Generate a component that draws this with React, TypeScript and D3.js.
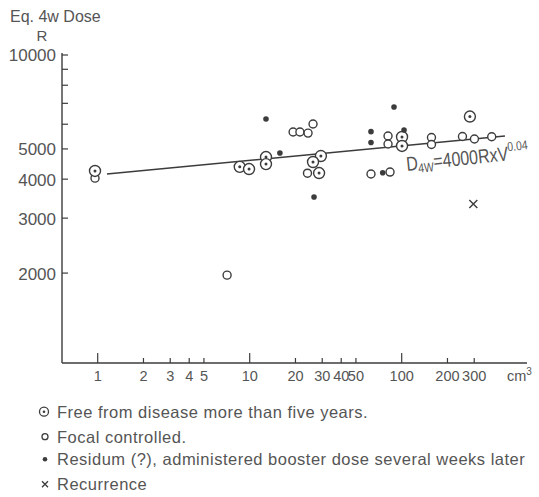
import React, { useRef, useEffect } from "react";
import * as d3 from "d3";

// points: [volume cm3, equivalent 4-week dose R]
const freeFromDisease = [
  [0.96, 4250], [8.6, 4380], [9.9, 4310], [12.8, 4710], [12.8, 4470],
  [29.4, 4745], [26.1, 4540], [28.6, 4185], [100.5, 5460], [100.5, 5110], [281, 6350],
];
const focalControlled = [
  [0.96, 4030], [7.1, 1970], [19.3, 5665], [21.4, 5665], [24.2, 5620], [26.1, 6010],
  [24.0, 4180], [62.8, 4155], [83.8, 4215], [81.3, 5500], [81.3, 5185],
  [157, 5440], [157, 5165], [251, 5480], [301, 5380], [391, 5470],
];
const residuum = [
  [12.8, 6235], [15.8, 4850], [26.5, 3505], [62.8, 5680], [62.8, 5240],
  [75, 4195], [89, 6815], [103.6, 5750],
];
const recurrence = [[296, 3330]];
// D4w = 4000 R x V^0.04, ends as drawn
const fitLine = [[1.15, 4155], [478, 5500]];

const xTicks = [1, 2, 3, 4, 5, 10, 20, 30, 40, 50, 100, 200, 300];
const xMajor = [1, 10, 100];
const yLabelled = [2000, 3000, 4000, 5000, 10000];
const yMinor = [6000, 7000, 8000, 9000];

const legendItems = [
  { kind: "free", label: "Free from disease more than five years." },
  { kind: "focal", label: "Focal controlled." },
  { kind: "residuum", label: "Residum (?), administered booster dose several weeks later" },
  { kind: "recurrence", label: "Recurrence" },
];

const INK = "#3c3c3c";
const FONT = "'Liberation Sans', Arial, sans-serif";

const App = () => {
  const svgRef = useRef(null);

  useEffect(() => {
    const svg = d3.select(svgRef.current);
    svg.selectAll("*").remove();

    const x = d3.scaleLog().domain([1, 100]).range([97.7, 401.7]);
    const y = d3.scaleLog().domain([1030, 10000]).range([363, 55]);
    const axisX0 = 62;
    const axisY0 = 363;

    // axes lines
    svg.append("line")
      .attr("x1", axisX0).attr("x2", axisX0).attr("y1", 53).attr("y2", axisY0)
      .attr("stroke", INK).attr("stroke-width", 1.4);
    svg.append("line")
      .attr("x1", axisX0).attr("x2", 527).attr("y1", axisY0).attr("y2", axisY0)
      .attr("stroke", INK).attr("stroke-width", 1.4);

    // y ticks
    svg.selectAll(".ytick")
      .data([...yLabelled, ...yMinor])
      .enter()
      .append("line")
      .attr("x1", axisX0).attr("x2", axisX0 + 6)
      .attr("y1", (d) => y(d)).attr("y2", (d) => y(d))
      .attr("stroke", INK).attr("stroke-width", 1.2);
    svg.selectAll(".ylabel")
      .data(yLabelled)
      .enter()
      .append("text")
      .attr("x", axisX0 - 6)
      .attr("y", (d) => y(d))
      .attr("dy", "0.38em")
      .attr("text-anchor", "end")
      .attr("font-family", FONT)
      .attr("font-size", 17)
      .attr("fill", "#555")
      .text((d) => d);

    // y title
    svg.append("text")
      .attr("x", 10).attr("y", 22)
      .attr("font-family", FONT).attr("font-size", 16).attr("fill", "#555")
      .text("Eq. 4w Dose");
    svg.append("text")
      .attr("x", 42).attr("y", 41)
      .attr("text-anchor", "middle")
      .attr("font-family", FONT).attr("font-size", 15).attr("fill", "#555")
      .text("R");

    // x ticks
    svg.selectAll(".xtick")
      .data(xTicks)
      .enter()
      .append("line")
      .attr("x1", (d) => x(d)).attr("x2", (d) => x(d))
      .attr("y1", axisY0)
      .attr("y2", (d) => axisY0 - (xMajor.includes(d) ? 10 : 5))
      .attr("stroke", INK).attr("stroke-width", 1.2);
    svg.selectAll(".xlabel")
      .data(xTicks)
      .enter()
      .append("text")
      .attr("x", (d) => x(d))
      .attr("y", 381)
      .attr("text-anchor", "middle")
      .attr("font-family", FONT)
      .attr("font-size", 14.5)
      .attr("fill", "#555")
      .text((d) => d);
    const unit = svg.append("text")
      .attr("x", 507).attr("y", 381)
      .attr("font-family", FONT).attr("font-size", 14.5).attr("fill", "#555");
    unit.append("tspan").text("cm");
    unit.append("tspan").attr("dy", -6).attr("font-size", 10).text("3");

    // regression line
    svg.append("path")
      .datum(fitLine)
      .attr("d", d3.line().x((d) => x(d[0])).y((d) => y(d[1])))
      .attr("fill", "none")
      .attr("stroke", INK)
      .attr("stroke-width", 1.5);

    const formula = svg.append("text")
      .attr("transform", "translate(407,171) rotate(-6) scale(0.8,1)")
      .attr("font-family", FONT).attr("font-size", 20).attr("fill", "#555");
    formula.append("tspan").text("D");
    formula.append("tspan").attr("font-size", 13).attr("dy", 3).text("4W");
    formula.append("tspan").attr("dy", -3).text("=4000RxV");
    formula.append("tspan").attr("font-size", 13).attr("dy", -9).text("0.04");

    // focal controlled: open circles
    svg.selectAll(".focal")
      .data(focalControlled)
      .enter()
      .append("circle")
      .attr("cx", (d) => x(d[0])).attr("cy", (d) => y(d[1]))
      .attr("r", 4)
      .attr("fill", "white").attr("stroke", INK).attr("stroke-width", 1.4);

    // free from disease: circle with dot
    const free = svg.selectAll(".free")
      .data(freeFromDisease)
      .enter()
      .append("g")
      .attr("transform", (d) => `translate(${x(d[0])},${y(d[1])})`);
    free.append("circle").attr("r", 5.5)
      .attr("fill", "white").attr("stroke", INK).attr("stroke-width", 1.4);
    free.append("circle").attr("r", 1.5).attr("fill", INK);

    // residuum: filled dots
    svg.selectAll(".residuum")
      .data(residuum)
      .enter()
      .append("circle")
      .attr("cx", (d) => x(d[0])).attr("cy", (d) => y(d[1]))
      .attr("r", 2.8)
      .attr("fill", INK);

    // recurrence: crosses
    svg.selectAll(".recurrence")
      .data(recurrence)
      .enter()
      .append("path")
      .attr("transform", (d) => `translate(${x(d[0])},${y(d[1])})`)
      .attr("d", "M-4,-4L4,4M-4,4L4,-4")
      .attr("stroke", INK).attr("stroke-width", 1.4);

    // legend
    const rowY = [411.7, 436.7, 459.3, 484.3];
    const leg = svg.selectAll(".legend")
      .data(legendItems)
      .enter()
      .append("g")
      .attr("transform", (d, i) => `translate(0,${rowY[i]})`);
    leg.each(function (d) {
      const g = d3.select(this);
      if (d.kind === "free") {
        g.append("circle").attr("cx", 44).attr("r", 4.5)
          .attr("fill", "none").attr("stroke", INK).attr("stroke-width", 1.3);
        g.append("circle").attr("cx", 44).attr("r", 1.3).attr("fill", INK);
      } else if (d.kind === "focal") {
        g.append("circle").attr("cx", 45).attr("r", 3)
          .attr("fill", "none").attr("stroke", INK).attr("stroke-width", 1.3);
      } else if (d.kind === "residuum") {
        g.append("circle").attr("cx", 45).attr("r", 2.3).attr("fill", INK);
      } else {
        g.append("path").attr("d", "M42,-3L48,3M42,3L48,-3")
          .attr("stroke", INK).attr("stroke-width", 1.3);
      }
      g.append("text")
        .attr("x", 57).attr("y", 6)
        .attr("font-family", FONT)
        .attr("font-size", 16.5)
        .attr("letter-spacing", 0.5)
        .attr("fill", "#555")
        .text(d.label);
    });
  }, []);

  return (
    <svg
      ref={svgRef}
      width={539}
      height={497}
      style={{ position: "absolute", left: 0, top: 0, background: "white" }}
    ></svg>
  );
};

export default App;
